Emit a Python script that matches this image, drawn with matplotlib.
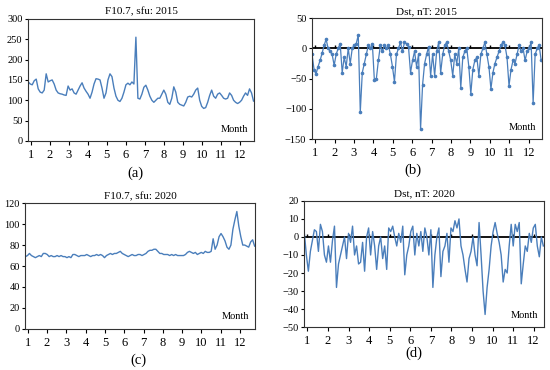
import numpy as np
import matplotlib
matplotlib.use("Agg")
import matplotlib.pyplot as plt

plt.rcParams['font.family'] = ['Liberation Serif', 'DejaVu Serif']

# daily values (roughly every 3 days)
f107_2015 = [145, 140, 138, 148, 152, 128, 120, 118, 125, 165, 145, 148, 150, 140, 125, 118,
             116, 115, 113, 112, 135, 125, 128, 118, 115, 125, 135, 143, 130, 122, 115, 105,
             120, 140, 153, 152, 150, 130, 105, 118, 150, 165, 158, 130, 110, 100, 97, 105,
             120, 138, 142, 138, 145, 140, 255, 105, 103, 115, 132, 137, 125, 110, 100, 95,
             100, 105, 105, 115, 125, 115, 95, 90, 105, 133, 120, 95, 90, 88, 86, 95,
             108, 110, 108, 115, 125, 130, 100, 85, 80, 82, 95, 112, 125, 110, 105, 115,
             118, 112, 105, 103, 105, 118, 112, 100, 95, 92, 95, 100, 110, 118, 112, 128,
             118, 98]

dst_2015 = [-10, -35, -42, -30, -20, -8, 5, 15, 0, -5, -10, -28, -10, 0, 8, -40,
            -15, -30, 0, -25, 0, 5, 8, 22, -105, -40, -25, -10, 5, 0, 8, -52,
            -50, -20, 5, -5, 5, 0, 5, -10, -30, -55, -10, 0, 10, -5, 10, 8,
            2, -40, -20, -5, -30, -10, -133, -60, -25, -10, 3, -45, -10, -45, -5, 10,
            -40, -10, 5, 10, -5, -20, -45, -10, -25, 0, -65, -15, -5, 0, -30, -75,
            -35, -20, -15, -45, -10, 0, 10, -10, -30, -67, -40, -25, -15, -5, 5, 10,
            5, -15, -62, -35, -20, -25, -10, 5, -5, 0, -20, -5, 0, 10, -90, -10,
            0, 5, -20]

f107_2020 = [69, 70, 72, 70, 69, 68, 69, 70, 69, 72, 72, 71, 69, 70, 69, 69,
             70, 69, 70, 69, 69, 68, 69, 68, 71, 71, 70, 69, 70, 70, 70, 71,
             70, 69, 70, 70, 71, 70, 71, 70, 68, 70, 71, 72, 71, 72, 72, 73,
             74, 72, 71, 70, 69, 70, 71, 70, 70, 71, 71, 70, 71, 72, 74, 75,
             75, 76, 76, 74, 72, 72, 71, 71, 71, 70, 71, 70, 71, 70, 70, 70,
             70, 71, 73, 74, 73, 72, 73, 71, 72, 73, 72, 74, 73, 73, 74, 86,
             76, 80, 88, 91, 88, 84, 78, 76, 80, 95, 104, 112, 98, 88, 80, 80,
             79, 78, 83, 85, 79]

dst_2020 = [2, -10, -19, -8, -2, 4, 3, -8, 7, 3, -10, -14, -5, -14, -2, 6,
            -28, -15, -10, -5, 0, -12, 2, -3, 6, -10, -5, -15, -14, -3, -19, 0,
            5, -10, 3, -5, -18, -5, 0, -12, -5, -18, 5, 3, 6, 0, -5, 2,
            -3, 6, -21, -10, -5, 3, 6, -10, 2, -5, 3, -8, 5, 0, -10, 4,
            -28, -10, 0, 5, -22, -8, -5, 2, -14, 5, 3, 9, 5, 10, -5, -10,
            -18, -25, -12, -8, 0, -10, -16, 8, -10, -30, -43, -28, -18, -5, 3, 8,
            2, -3, -10, -25, -18, -20, -5, 7, -5, 7, 3, 8, -26, -15, -5, -8,
            2, -3, 5, 7, -5, -11, 0, -5]

months = list(range(1, 13))
blue = '#4A7EBB'

fig = plt.figure(figsize=(5.5, 3.7), dpi=100)

panels = [
    # data, title, rect, xlim, ylim, yticks, letter pos, zero line
    (f107_2015, 'F10.7, sfu: 2015', [0.051, 0.619, 0.411, 0.330], (0.86, 12.74), (0, 300),
     range(0, 301, 50), (0.247, 0.532), False),
    (dst_2015, 'Dst, nT: 2015', [0.567, 0.624, 0.418, 0.327], (0.83, 12.67), (-150, 50),
     range(-150, 51, 50), (0.751, 0.540), True),
    (f107_2020, 'F10.7, sfu: 2020', [0.046, 0.111, 0.418, 0.340], (0.88, 12.78), (0, 120),
     range(0, 121, 20), (0.251, 0.027), False),
    (dst_2020, 'Dst, nT: 2020', [0.553, 0.116, 0.436, 0.341], (0.84, 12.5), (-50, 20),
     range(-50, 21, 10), (0.753, 0.045), True),
]
letters = ['(a)', '(b)', '(c)', '(d)']

for i, (vals, title, rect, xl, yl, yt, lpos, zero) in enumerate(panels):
    ax = fig.add_axes(rect)
    x = np.linspace(xl[0] + 0.01, xl[1] - 0.03, len(vals))
    if i == 1:
        ax.plot(x, vals, color=blue, lw=0.9, marker='o', ms=1.6)
    else:
        ax.plot(x, vals, color=blue, lw=1.0)
    if zero:
        ax.axhline(0, color='black', lw=1.3, zorder=1)
        frac = (0 - yl[0]) / (yl[1] - yl[0])
        sec = ax.secondary_xaxis(frac)
        sec.set_xticks(months)
        sec.tick_params(length=2, width=1, direction='out', labelbottom=False, labeltop=False)
        sec.spines['bottom'].set_visible(False)
        sec.spines['top'].set_visible(False)
    ax.set_xlim(xl)
    ax.set_ylim(yl)
    ax.set_xticks(months)
    ax.set_yticks(list(yt))
    ax.tick_params(axis='x', labelsize=9, length=3, pad=2.5)
    ax.tick_params(axis='y', labelsize=7.5, length=2.5, pad=1.5)
    for s in ax.spines.values():
        s.set_linewidth(0.8)
        s.set_color('#333333')
    ax.set_title(title, fontsize=8, pad=3)
    ax.text(0.975, 0.06, 'Month', transform=ax.transAxes, ha='right', va='bottom', fontsize=7.5)
    fig.text(lpos[0], lpos[1], letters[i], ha='center', va='center', fontsize=10.5)

fig.savefig('out.png', dpi=100)
